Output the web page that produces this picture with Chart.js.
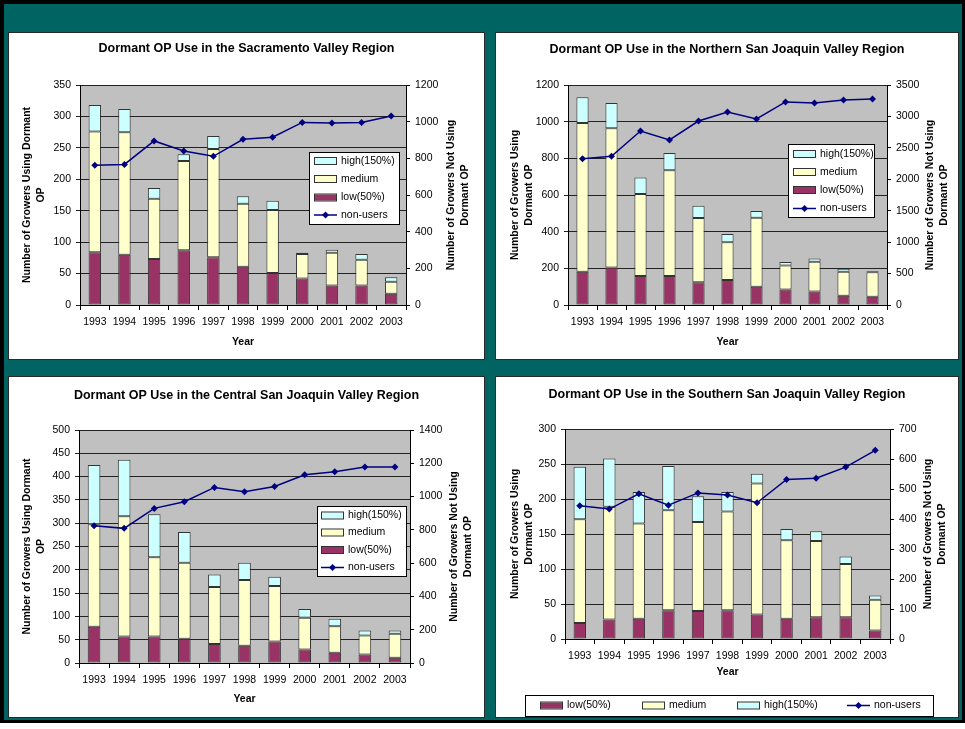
<!DOCTYPE html>
<html>
<head>
<meta charset="utf-8">
<title>Dormant OP Use by Region</title>
<script src="https://cdn.jsdelivr.net/npm/chart.js@4.4.1/dist/chart.umd.min.js"></script>
<style>
  body { margin: 0; background: #fff; }
  #frame { position: absolute; left: 0; top: 0; width: 965px; height: 723px; background: #000; }
  #teal { position: absolute; left: 4px; top: 4px; width: 958px; height: 716px; background: #006462; }
  .panel { position: absolute; background: #fff; border: 1px solid #2a2a2a; box-sizing: border-box; }
  canvas { position: absolute; }
</style>
</head>
<body>
<div id="frame"></div>
<div id="teal"></div>
<div class="panel" style="left:8px;top:32px;width:477px;height:328px"></div>
<div class="panel" style="left:495px;top:32px;width:464px;height:328px"></div>
<div class="panel" style="left:8px;top:376px;width:477px;height:342px"></div>
<div class="panel" style="left:495px;top:376px;width:464px;height:342px"></div>
<canvas id="sac" width="477" height="328" style="left:8px;top:32px"></canvas>
<canvas id="nsj" width="464" height="328" style="left:495px;top:32px"></canvas>
<canvas id="csj" width="477" height="342" style="left:8px;top:376px"></canvas>
<canvas id="ssj" width="464" height="342" style="left:495px;top:376px"></canvas>
<script>
const years = ['1993', '1994', '1995', '1996', '1997', '1998', '1999', '2000', '2001', '2002', '2003'];

// Sacramento Valley
const sacLow = [84, 80, 73, 87, 76, 61, 51, 42, 31, 31, 18];
const sacMedium = [192, 195, 96, 142, 172, 100, 100, 39, 52, 41, 19];
const sacHigh = [42, 37, 17, 11, 21, 12, 15, 2, 5, 9, 7];
const sacNonUsers = [762, 767, 895, 840, 811, 904, 915, 996, 993, 996, 1031];

// Northern San Joaquin Valley
const nsjLow = [182, 204, 158, 158, 124, 136, 100, 84, 73, 51, 45];
const nsjMedium = [811, 760, 447, 577, 351, 206, 376, 132, 163, 131, 133];
const nsjHigh = [140, 138, 91, 94, 67, 45, 37, 19, 17, 16, 6];
const nsjNonUsers = [2328, 2365, 2768, 2625, 2927, 3070, 2959, 3230, 3214, 3261, 3277];

// Central San Joaquin Valley
const csjLow = [78, 57, 57, 52, 41, 37, 46, 29, 22, 18, 11];
const csjMedium = [220, 258, 170, 163, 122, 141, 119, 68, 57, 41, 52];
const csjHigh = [127, 121, 92, 66, 27, 37, 20, 19, 16, 11, 7];
const csjNonUsers = [825, 809, 929, 969, 1055, 1029, 1061, 1131, 1149, 1177, 1177];

// Southern San Joaquin Valley
const ssjLow = [23, 28, 29, 41, 40, 41, 35, 29, 31, 31, 12];
const ssjMedium = [148, 161, 136, 143, 127, 141, 187, 112, 109, 76, 44];
const ssjHigh = [75, 69, 45, 63, 37, 28, 14, 16, 14, 11, 6];
const ssjNonUsers = [444, 433, 484, 446, 487, 480, 454, 532, 536, 573, 629];

const FONT = '"Liberation Sans", Arial, sans-serif';
const LOW = '#993366', MED = '#ffffcc', HIGH = '#ccffff', NAVY = '#000080';

Chart.defaults.font.family = FONT;
Chart.defaults.font.size = 10.5;
Chart.defaults.color = '#000';

// grey plot area behind gridlines and bars
const plotBg = {
  id: 'plotBg',
  beforeDraw(chart) {
    const { ctx, chartArea: a } = chart;
    ctx.save();
    ctx.fillStyle = '#c0c0c0';
    ctx.fillRect(a.left, a.top, a.right - a.left, a.bottom - a.top);
    ctx.restore();
  }
};

function verticalText(ctx, lines, x, y) {
  ctx.save();
  ctx.translate(x, y);
  ctx.rotate(-Math.PI / 2);
  lines.forEach((t, i) => ctx.fillText(t, 0, i * 14));
  ctx.restore();
}

function swatch(ctx, kind, color, x, y) {
  if (kind === 'line') {
    ctx.strokeStyle = NAVY;
    ctx.lineWidth = 1.5;
    ctx.beginPath();
    ctx.moveTo(x, y);
    ctx.lineTo(x + 23, y);
    ctx.stroke();
    ctx.fillStyle = NAVY;
    ctx.beginPath();
    ctx.moveTo(x + 11.5, y - 3.5);
    ctx.lineTo(x + 15, y);
    ctx.lineTo(x + 11.5, y + 3.5);
    ctx.lineTo(x + 8, y);
    ctx.closePath();
    ctx.fill();
  } else {
    ctx.fillStyle = color;
    ctx.fillRect(x, y - 3, 22, 6);
    ctx.strokeStyle = '#333';
    ctx.lineWidth = 1;
    ctx.strokeRect(x + 0.5, y - 3.5, 22, 7);
  }
}

// chart title, axis titles and legend box
const panelText = {
  id: 'panelText',
  afterDraw(chart, args, o) {
    const { ctx, chartArea: a } = chart;
    const midY = (a.top + a.bottom) / 2;
    ctx.save();
    ctx.fillStyle = '#000';
    ctx.textAlign = 'center';
    ctx.textBaseline = 'middle';
    ctx.font = 'bold 12.5px ' + FONT;
    ctx.fillText(o.title, chart.width / 2, o.titleY);
    ctx.font = 'bold 10.5px ' + FONT;
    ctx.fillText('Year', (a.left + a.right) / 2, o.yearY);
    verticalText(ctx, o.leftTitle, o.leftX, midY);
    verticalText(ctx, o.rightTitle, o.rightX, midY);

    const [bx, by, bw, bh] = o.legendBox;
    ctx.fillStyle = '#fff';
    ctx.fillRect(bx, by, bw, bh);
    ctx.strokeStyle = '#000';
    ctx.lineWidth = 1;
    ctx.strokeRect(bx + 0.5, by + 0.5, bw, bh);
    ctx.font = '10.5px ' + FONT;
    ctx.textAlign = 'left';
    o.legendItems.forEach(it => {
      swatch(ctx, it.kind, it.color, it.x, it.y);
      ctx.fillStyle = '#000';
      ctx.fillText(it.label, it.x + 27, it.y);
    });
    ctx.restore();
  }
};

function stackedItems(x, ys) {
  return [
    { label: 'high(150%)', kind: 'box', color: HIGH, x, y: ys[0] },
    { label: 'medium', kind: 'box', color: MED, x, y: ys[1] },
    { label: 'low(50%)', kind: 'box', color: LOW, x, y: ys[2] },
    { label: 'non-users', kind: 'line', color: NAVY, x, y: ys[3] }
  ];
}

function makeChart(id, cfg) {
  const el = document.getElementById(id);
  const W = el.width, H = el.height;
  const bar = (label, data, color) => ({
    type: 'bar', label, data, backgroundColor: color,
    borderColor: '#333', borderWidth: 1, borderSkipped: false,
    barPercentage: 0.42, categoryPercentage: 1, yAxisID: 'y', order: 1
  });
  new Chart(el, {
    data: {
      labels: years,
      datasets: [
        bar('low(50%)', cfg.low, LOW),
        bar('medium', cfg.medium, MED),
        bar('high(150%)', cfg.high, HIGH),
        {
          type: 'line', label: 'non-users', data: cfg.nonUsers, yAxisID: 'y1', order: 0,
          borderColor: NAVY, backgroundColor: NAVY, borderWidth: 1.5,
          pointStyle: 'rectRot', pointRadius: 3.5, pointBorderWidth: 0, tension: 0
        }
      ]
    },
    options: {
      responsive: false,
      animation: false,
      layout: { padding: { top: cfg.plot.t, left: 0, right: 0, bottom: 0 } },
      plugins: {
        legend: { display: false },
        tooltip: { enabled: false },
        panelText: cfg.text
      },
      scales: {
        x: {
          stacked: true,
          grid: { offset: true, drawOnChartArea: false, color: '#000', tickLength: 5 },
          border: { color: '#000' },
          ticks: { maxRotation: 0, autoSkip: false, padding: 6 },
          afterFit: s => { s.height = H - cfg.plot.b; }
        },
        y: {
          stacked: true, position: 'left', min: 0, max: cfg.leftMax,
          ticks: { stepSize: cfg.leftStep, padding: 5, format: { useGrouping: false } },
          grid: { color: '#222', tickLength: 4 },
          border: { color: '#000' },
          afterFit: s => { s.width = cfg.plot.l; }
        },
        y1: {
          position: 'right', min: 0, max: cfg.rightMax,
          ticks: { stepSize: cfg.rightStep, padding: 5, format: { useGrouping: false } },
          grid: { drawOnChartArea: false, color: '#000', tickLength: 4 },
          border: { color: '#000' },
          afterFit: s => { s.width = W - cfg.plot.r; }
        }
      }
    },
    plugins: [plotBg, panelText]
  });
}

makeChart('sac', {
  low: sacLow, medium: sacMedium, high: sacHigh, nonUsers: sacNonUsers,
  leftMax: 350, leftStep: 50, rightMax: 1200, rightStep: 200,
  plot: { l: 72, r: 398, t: 53, b: 273 },
  text: {
    title: 'Dormant OP Use in the Sacramento Valley Region', titleY: 17, yearY: 310,
    leftTitle: ['Number of Growers Using Dormant', 'OP'], leftX: 19,
    rightTitle: ['Number of Growers Not Using', 'Dormant OP'], rightX: 443,
    legendBox: [301, 120, 90, 72],
    legendItems: stackedItems(306, [129, 147, 165.5, 183])
  }
});

makeChart('nsj', {
  low: nsjLow, medium: nsjMedium, high: nsjHigh, nonUsers: nsjNonUsers,
  leftMax: 1200, leftStep: 200, rightMax: 3500, rightStep: 500,
  plot: { l: 73, r: 392, t: 53, b: 273 },
  text: {
    title: 'Dormant OP Use in the Northern San Joaquin Valley Region', titleY: 18, yearY: 310,
    leftTitle: ['Number of Growers Using', 'Dormant OP'], leftX: 20,
    rightTitle: ['Number of Growers Not Using', 'Dormant OP'], rightX: 435,
    legendBox: [293, 112, 86, 73],
    legendItems: stackedItems(298, [122, 140, 158, 176.5])
  }
});

makeChart('csj', {
  low: csjLow, medium: csjMedium, high: csjHigh, nonUsers: csjNonUsers,
  leftMax: 500, leftStep: 50, rightMax: 1400, rightStep: 200,
  plot: { l: 71, r: 402, t: 54, b: 287 },
  text: {
    title: 'Dormant OP Use in the Central San Joaquin Valley Region', titleY: 20, yearY: 323,
    leftTitle: ['Number of Growers Using Dormant', 'OP'], leftX: 19,
    rightTitle: ['Number of Growers Not Using', 'Dormant OP'], rightX: 446,
    legendBox: [309, 130, 89, 70],
    legendItems: stackedItems(313, [139.5, 156.5, 174, 191.5])
  }
});

makeChart('ssj', {
  low: ssjLow, medium: ssjMedium, high: ssjHigh, nonUsers: ssjNonUsers,
  leftMax: 300, leftStep: 50, rightMax: 700, rightStep: 100,
  plot: { l: 70, r: 395, t: 53, b: 263 },
  text: {
    title: 'Dormant OP Use in the Southern San Joaquin Valley Region', titleY: 19, yearY: 296,
    leftTitle: ['Number of Growers Using', 'Dormant OP'], leftX: 20,
    rightTitle: ['Number of Growers Not Using', 'Dormant OP'], rightX: 433,
    legendBox: [30, 319, 408, 21],
    legendItems: [
      { label: 'low(50%)', kind: 'box', color: LOW, x: 45, y: 329.5 },
      { label: 'medium', kind: 'box', color: MED, x: 147, y: 329.5 },
      { label: 'high(150%)', kind: 'box', color: HIGH, x: 242, y: 329.5 },
      { label: 'non-users', kind: 'line', color: NAVY, x: 352, y: 329.5 }
    ]
  }
});
</script>
</body>
</html>
